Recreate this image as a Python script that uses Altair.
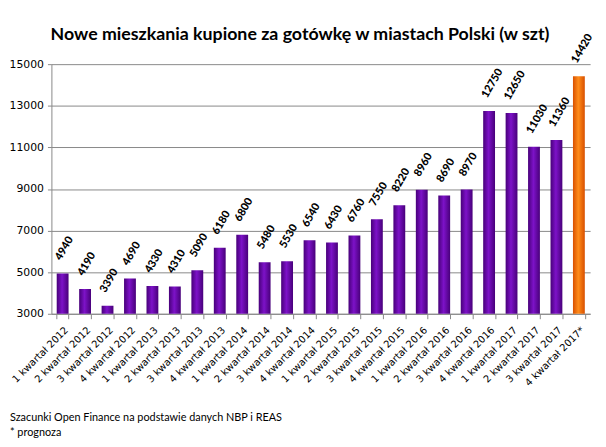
import altair as alt
import pandas as pd

categories = [
    "1 kwartał 2012", "2 kwartał 2012", "3 kwartał 2012", "4 kwartał 2012",
    "1 kwartał 2013", "2 kwartał 2013", "3 kwartał 2013", "4 kwartał 2013",
    "1 kwartał 2014", "2 kwartał 2014", "3 kwartał 2014", "4 kwartał 2014",
    "1 kwartał 2015", "2 kwartał 2015", "3 kwartał 2015", "4 kwartał 2015",
    "1 kwartał 2016", "2 kwartał 2016", "3 kwartał 2016", "4 kwartał 2016",
    "1 kwartał 2017", "2 kwartał 2017", "3 kwartał 2017", "4 kwartał 2017*",
]
values = [4940, 4190, 3390, 4690, 4330, 4310, 5090, 6180, 6800, 5480, 5530, 6540,
          6430, 6760, 7550, 8220, 8960, 8690, 8970, 12750, 12650, 11030, 11360, 14420]
forecast = [False] * 23 + [True]
y_ticks = [3000, 5000, 7000, 9000, 11000, 13000, 15000]
title_text = "Nowe mieszkania kupione za gotówkę w miastach Polski (w szt)"
footnote_1 = "Szacunki Open Finance na podstawie danych NBP i REAS"
footnote_2 = "* prognoza"

df = pd.DataFrame({"kw": categories, "v": values, "prog": forecast})

W, H = 546, 253

x_enc = alt.X("kw:N", sort=categories, title=None,
              scale=alt.Scale(paddingInner=0.47, paddingOuter=0.235),
              axis=alt.Axis(labelAngle=-45, labelFont="DejaVu Sans", labelFontSize=10,
                            labelColor="#000000", tickBand="extent", tickSize=5,
                            tickColor="#888888", domainColor="#888888", labelPadding=6,
                            labelLimit=300, labelOverlap=False, grid=False))
y_enc = alt.Y("v:Q", title=None,
              scale=alt.Scale(domain=[3000, 15000], nice=False, zero=False),
              axis=alt.Axis(values=y_ticks, format="d", labelFont="DejaVu Sans",
                            labelFontSize=11, labelColor="#000000", tickSize=4,
                            tickColor="#888888", domainColor="#888888",
                            gridColor="#888888", labelPadding=4))

purple = alt.Gradient(gradient="linear", x1=0, x2=1, y1=0, y2=0,
                      stops=[alt.GradientStop(offset=0, color="#48007a"),
                             alt.GradientStop(offset=0.45, color="#7d12c8"),
                             alt.GradientStop(offset=1, color="#48007a")])
orange = alt.Gradient(gradient="linear", x1=0, x2=1, y1=0, y2=0,
                      stops=[alt.GradientStop(offset=0, color="#d85000"),
                             alt.GradientStop(offset=0.45, color="#ff8c1a"),
                             alt.GradientStop(offset=1, color="#d85000")])

base = alt.Chart(df)
bars_p = base.transform_filter("!datum.prog").mark_bar(color=purple, size=12, clip=True).encode(x=x_enc, y=y_enc)
bars_o = base.transform_filter("datum.prog").mark_bar(color=orange, size=12, clip=True).encode(x=x_enc, y=y_enc)
labels = base.mark_text(angle=300, align="left", baseline="middle", dx=10, dy=-11,
                        font="Lato", fontSize=11, fontWeight=900,
                        color="#000000").encode(x=x_enc, y=y_enc, text="v:Q")

def note(text, x, y, size, weight="normal", align="left", font="Lato"):
    return alt.Chart(pd.DataFrame({"t": [text]})).mark_text(
        align=align, baseline="middle", font=font, fontSize=size, fontWeight=weight,
        color="#000000").encode(x=alt.value(x), y=alt.value(y), text="t:N")

title = note(title_text, 252, -29, 18, weight="bold", align="center")
foot1 = note(footnote_1, -42, 359, 11)
foot2 = note(footnote_2, -42, 374, 11)

chart = alt.layer(bars_p, bars_o, labels, title, foot1, foot2).properties(
    width=W, height=H,
    autosize=alt.AutoSizeParams(type="none"),
    padding={"left": 44, "top": 54, "right": 8, "bottom": 124},
    background="#ffffff",
).configure_view(stroke=None)

chart.save("out.html", embed_options={"renderer": "svg", "actions": False})
